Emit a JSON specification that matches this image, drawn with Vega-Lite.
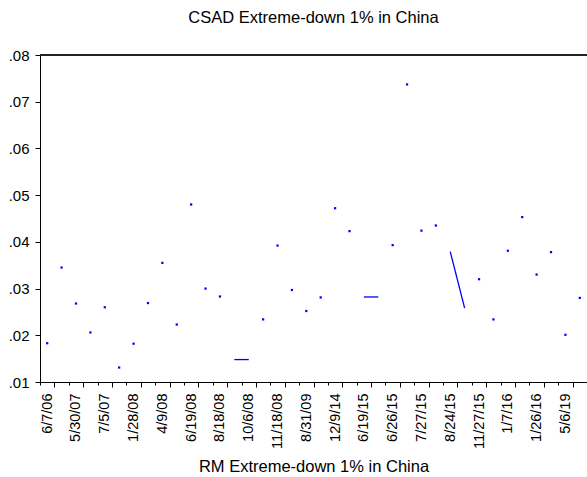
{
  "$schema": "https://vega.github.io/schema/vega-lite/v6.json",
  "width": 547,
  "height": 327,
  "autosize": "none",
  "padding": {"left": 40, "top": 55, "right": 0, "bottom": 95},
  "background": "white",
  "config": {"view": {"stroke": null}, "font": "Liberation Sans"},
  "title": {
    "text": "CSAD Extreme-down 1% in China",
    "font": "Liberation Sans",
    "fontSize": 16.5,
    "fontWeight": "normal",
    "color": "black",
    "anchor": "middle",
    "frame": "group",
    "offset": 22
  },
  "data": {
    "values": [
      {"date": "6/7/06", "csad": 0.0183},
      {"date": "2/27/07", "csad": 0.0345},
      {"date": "5/30/07", "csad": 0.0268},
      {"date": "6/4/07", "csad": 0.0206},
      {"date": "7/5/07", "csad": 0.0260},
      {"date": "1/22/08", "csad": 0.0131},
      {"date": "1/28/08", "csad": 0.0182},
      {"date": "3/17/08", "csad": 0.0269},
      {"date": "4/9/08", "csad": 0.0355},
      {"date": "6/10/08", "csad": 0.0223},
      {"date": "6/19/08", "csad": 0.0480},
      {"date": "8/11/08", "csad": 0.0300},
      {"date": "8/18/08", "csad": 0.0283},
      {"date": "9/26/08", "csad": 0.0148, "run": "a"},
      {"date": "10/6/08", "csad": 0.0148, "run": "a"},
      {"date": "10/27/08", "csad": 0.0234},
      {"date": "11/18/08", "csad": 0.0392},
      {"date": "8/12/09", "csad": 0.0297},
      {"date": "8/31/09", "csad": 0.0252},
      {"date": "6/24/13", "csad": 0.0281},
      {"date": "12/9/14", "csad": 0.0472},
      {"date": "1/19/15", "csad": 0.0423},
      {"date": "6/19/15", "csad": 0.0282, "run": "b"},
      {"date": "6/23/15", "csad": 0.0282, "run": "b"},
      {"date": "6/26/15", "csad": 0.0393},
      {"date": "7/8/15", "csad": 0.0737},
      {"date": "7/27/15", "csad": 0.0424},
      {"date": "8/18/15", "csad": 0.0435},
      {"date": "8/24/15", "csad": 0.0379, "run": "c"},
      {"date": "8/25/15", "csad": 0.0258, "run": "c"},
      {"date": "11/27/15", "csad": 0.0320},
      {"date": "1/4/16", "csad": 0.0234},
      {"date": "1/7/16", "csad": 0.0381},
      {"date": "1/11/16", "csad": 0.0453},
      {"date": "1/26/16", "csad": 0.0330},
      {"date": "2/25/16", "csad": 0.0378},
      {"date": "5/6/19", "csad": 0.0201},
      {"date": "5/9/19", "csad": 0.0280}
    ]
  },
  "layer": [
    {
      "mark": {"type": "rule", "color": "#222222", "strokeWidth": 1.5},
      "encoding": {"y": {"datum": 0.08, "type": "quantitative"}}
    },
    {
      "transform": [{"filter": "isValid(datum.run)"}],
      "mark": {"type": "line", "color": "#0000ff", "strokeWidth": 1.3},
      "encoding": {
        "x": {"field": "date", "type": "ordinal", "bandPosition": 0.5},
        "y": {"field": "csad", "type": "quantitative"},
        "detail": {"field": "run"}
      }
    },
    {
      "transform": [{"filter": "!isValid(datum.run)"}],
      "mark": {"type": "square", "color": "#0000ff", "filled": true, "size": 5, "opacity": 1},
      "encoding": {
        "x": {
          "field": "date",
          "type": "ordinal",
          "bandPosition": 0.5,
          "scale": {
            "type": "band",
            "paddingInner": 0,
            "paddingOuter": 0,
            "domain": ["6/7/06", "2/27/07", "5/30/07", "6/4/07", "7/5/07", "1/22/08", "1/28/08", "3/17/08", "4/9/08", "6/10/08", "6/19/08", "8/11/08", "8/18/08", "9/26/08", "10/6/08", "10/27/08", "11/18/08", "8/12/09", "8/31/09", "6/24/13", "12/9/14", "1/19/15", "6/19/15", "6/23/15", "6/26/15", "7/8/15", "7/27/15", "8/18/15", "8/24/15", "8/25/15", "11/27/15", "1/4/16", "1/7/16", "1/11/16", "1/26/16", "2/25/16", "5/6/19", "5/9/19"]
          },
          "axis": {
            "title": "RM Extreme-down 1% in China",
            "titleFont": "Liberation Sans",
            "titleFontSize": 16.5,
            "titleFontWeight": "normal",
            "titleColor": "black",
            "titleBaseline": "alphabetic",
            "titleY": 89,
            "tickBand": "extent",
            "tickColor": "black",
            "tickSize": {"condition": {"test": "indexof(['6/7/06','5/30/07','7/5/07','1/28/08','4/9/08','6/19/08','8/18/08','10/6/08','11/18/08','8/31/09','12/9/14','6/19/15','6/26/15','7/27/15','8/24/15','11/27/15','1/7/16','1/26/16','5/6/19'], datum.value) >= 0", "value": 5}, "value": 3},
            "domainColor": "black",
            "labelAngle": 270,
            "labelAlign": "right",
            "labelBaseline": "middle",
            "labelFontSize": 14.5,
            "labelColor": "black",
            "labelPadding": 6,
            "labelOverlap": false,
            "labelExpr": "indexof(['6/7/06','5/30/07','7/5/07','1/28/08','4/9/08','6/19/08','8/18/08','10/6/08','11/18/08','8/31/09','12/9/14','6/19/15','6/26/15','7/27/15','8/24/15','11/27/15','1/7/16','1/26/16','5/6/19'], datum.value) >= 0 ? datum.value : ''"
          }
        },
        "y": {
          "field": "csad",
          "type": "quantitative",
          "scale": {"domain": [0.01, 0.08], "zero": false, "nice": false},
          "axis": {
            "title": null,
            "values": [0.01, 0.02, 0.03, 0.04, 0.05, 0.06, 0.07, 0.08],
            "labelExpr": "replace(format(datum.value, '.2f'), '0.', '.')",
            "grid": false,
            "tickSize": 5,
            "tickColor": "black",
            "domainColor": "black",
            "labelFontSize": 15,
            "labelColor": "black",
            "labelPadding": 6
          }
        }
      }
    }
  ]
}
